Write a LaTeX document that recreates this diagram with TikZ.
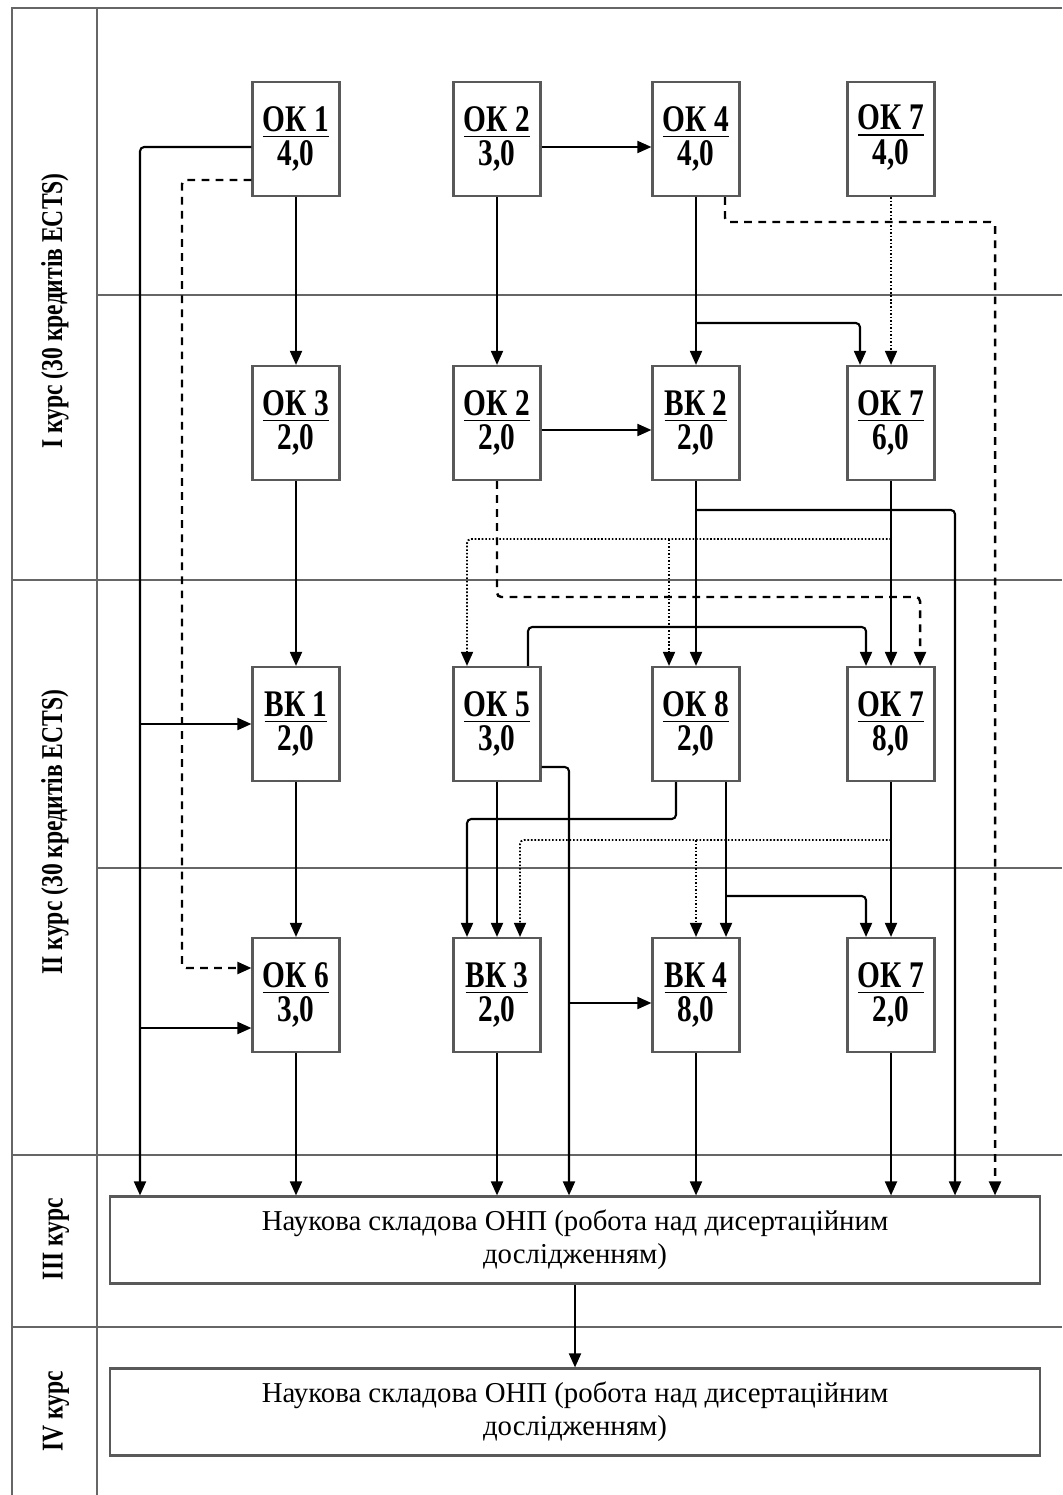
\documentclass[tikz,border=0pt]{standalone}
\usepackage{fontspec}
\setmainfont{Liberation Serif}
\newfontfamily\cfont[FakeStretch=0.78]{Liberation Serif}
\usetikzlibrary{arrows.meta}
\begin{document}
\begin{tikzpicture}[x=0.1mm,y=-0.1mm,
  grid/.style={draw=black!60,line width=0.6pt},
  box/.style={draw=black!65,line width=0.6pt,fill=white,minimum width=8.7mm,minimum height=11.4mm,
    align=center,inner sep=0pt,font=\cfont\bfseries\fontsize{10.7}{9.8}\selectfont},
  wide/.style={draw=black!65,line width=0.6pt,fill=white,minimum width=93mm,minimum height=8.7mm,
    align=center,inner sep=0pt,font=\rmfamily\fontsize{8.2}{9.4}\selectfont},
  rowlab/.style={rotate=90,font=\cfont\bfseries\fontsize{8.6}{9}\selectfont},
  ar/.style={line width=0.6pt,rounded corners=1.2pt,-{Triangle[length=4pt,width=3.4pt]}},
  dsh/.style={line width=0.7pt,dash pattern=on 2.2pt off 1.8pt},
  dot/.style={line width=0.55pt,dash pattern=on 0.45pt off 0.55pt}]
\useasboundingbox (0,0) rectangle (1062,1495);
% frame
\draw[grid] (12,1495) -- (12,8) -- (1062,8);
\draw[grid] (97,8) -- (97,1495);
\draw[grid] (97,295) -- (1062,295);
\draw[grid] (12,580) -- (1062,580);
\draw[grid] (97,868) -- (1062,868);
\draw[grid] (12,1155) -- (1062,1155);
\draw[grid] (12,1327) -- (1062,1327);
% row labels
\node[rowlab] (r1) at (55,311) {І курс (30 кредитів ECTS)};
\node[rowlab] (r2) at (55,832) {ІІ курс (30 кредитів ECTS)};
\node[rowlab] (r3) at (56,1239) {ІІІ курс};
\node[rowlab] (r4) at (56,1411) {IV курс};
% boxes
\node[box] (OK1) at (296,139) {\underline{ОК 1}\\4,0};
\node[box] (OK2) at (497,139) {\underline{ОК 2}\\3,0};
\node[box] (OK4) at (696,139) {\underline{ОК 4}\\4,0};
\node[box] (OK7) at (891,139) {\raisebox{0.9mm}{\underline{ОК 7}}\\\raisebox{0.9mm}{4,0}};
\node[box] (OK3) at (296,423) {\underline{ОК 3}\\2,0};
\node[box] (OK2b) at (497,423) {\raisebox{-0.5mm}{\underline{ОК 2}}\\\raisebox{-0.5mm}{2,0}};
\node[box] (BK2) at (696,423) {\underline{ВК 2}\\2,0};
\node[box] (OK7b) at (891,423) {\underline{ОК 7}\\6,0};
\node[box] (BK1) at (296,724) {\underline{ВК 1}\\2,0};
\node[box] (OK5) at (497,724) {\underline{ОК 5}\\3,0};
\node[box] (OK8) at (696,724) {\underline{ОК 8}\\2,0};
\node[box] (OK7c) at (891,724) {\underline{ОК 7}\\8,0};
\node[box] (OK6) at (296,995) {\underline{ОК 6}\\3,0};
\node[box] (BK3) at (497,995) {\underline{ВК 3}\\2,0};
\node[box] (BK4) at (696,995) {\underline{ВК 4}\\8,0};
\node[box] (OK7d) at (891,995) {\underline{ОК 7}\\2,0};
\node[wide] (III) at (575,1240) {Наукова складова ОНП (робота над дисертаційним\\дослідженням)};
\node[wide] (IV) at (575,1412) {Наукова складова ОНП (робота над дисертаційним\\дослідженням)};
% helper coordinates
\coordinate (pA) at (140,147);
\coordinate (pB) at (140,724);
\coordinate (pC) at (140,1028);
\coordinate (pD) at (182,180);
\coordinate (pE) at (182,968);
\coordinate (pF) at (696,323);
\coordinate (pG) at (995,222);
\coordinate (pG0) at (725,0);
\coordinate (pH) at (696,510);
\coordinate (pI) at (955,510);
\coordinate (pJ) at (920,597);
\coordinate (pK) at (891,539);
\coordinate (pL) at (467,539);
\coordinate (pM) at (669,539);
\coordinate (pN) at (866,627);
\coordinate (pN0) at (528,0);
\coordinate (pO) at (569,767);
\coordinate (pP) at (569,1003);
\coordinate (pQ) at (676,819);
\coordinate (pR) at (467,819);
\coordinate (pS) at (891,840);
\coordinate (pT) at (520,840);
\coordinate (pU) at (696,840);
\coordinate (pV) at (726,896);
\coordinate (pW) at (866,896);
\coordinate (pX) at (860,323);
% OK1 connectors
\draw[ar] (OK1.west |- pA) -- (pA) -- (pA |- III.north);
\draw[ar] (pB) -- (BK1.west |- pB);
\draw[ar] (pC) -- (OK6.west |- pC);
\draw[ar,dsh] (OK1.west |- pD) -- (pD) -- (pE) -- (OK6.west |- pE);
\draw[ar] (OK1) -- (OK3);
% OK2, OK4
\draw[ar] ([yshift=-0.8mm]OK2.east) -- ([yshift=-0.8mm]OK4.west);
\draw[ar] (OK2) -- (OK2b);
\draw[ar] (OK4) -- (BK2);
\draw[ar] (pF) -- (pX) -- (pX |- OK7b.north);
\draw[ar,dsh] (pG0 |- OK4.south) |- (pG) -- (pG |- III.north);
\draw[ar,dot] (OK7) -- (OK7b);
% row 2
\draw[ar] ([yshift=-0.7mm]OK2b.east) -- ([yshift=-0.7mm]BK2.west);
\draw[ar] (OK3) -- (BK1);
\draw[ar] (BK2) -- (OK8);
\draw[ar] (pH) -- (pI) -- (pI |- III.north);
\draw[ar] (OK7b) -- (OK7c);
\draw[ar,dsh] (OK2b.south) |- (pJ) -- (pJ |- OK7c.north);
\draw[ar,dot] (pK) -- (pL) -- (pL |- OK5.north);
\draw[ar,dot] (pM) -- (pM |- OK8.north);
% row 3
\draw[ar] (pN0 |- OK5.north) |- (pN) -- (pN |- OK7c.north);
\draw[ar] (OK5.east |- pO) -- (pO) -- (pO |- III.north);
\draw[ar] (pP) -- (BK4.west |- pP);
\draw[ar] (OK5) -- (BK3);
\draw[ar] (pQ |- OK8.south) -- (pQ) -- (pR) -- (pR |- BK3.north);
\draw[ar,dot] (pS) -- (pT) -- (pT |- BK3.north);
\draw[ar,dot] (pU) -- (pU |- BK4.north);
\draw[ar] (pV |- OK8.south) -- (pV |- BK4.north);
\draw[ar] (pV) -- (pW) -- (pW |- OK7d.north);
\draw[ar] (OK7c) -- (OK7d);
\draw[ar] (BK1) -- (OK6);
% row 4 to III
\draw[ar] (OK6.south) -- (OK6.south |- III.north);
\draw[ar] (BK3.south) -- (BK3.south |- III.north);
\draw[ar] (BK4.south) -- (BK4.south |- III.north);
\draw[ar] (OK7d.south) -- (OK7d.south |- III.north);
\draw[ar] (III.south) -- (IV.north);
\end{tikzpicture}
\end{document}
